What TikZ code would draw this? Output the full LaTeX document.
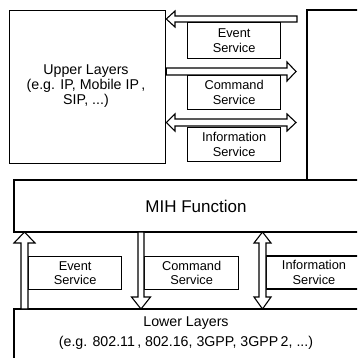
\documentclass[tikz,border=0pt]{standalone}
\usepackage{fontspec}
\setmainfont{Liberation Sans}
\begin{document}
\begin{tikzpicture}[x=1pt,y=-1pt,
  boxline/.style={draw=black,line width=1.3pt},
  svc/.style={boxline,fill=white,anchor=north west,inner sep=0pt,align=center,
    font=\fontsize{12.8}{14.5}\selectfont},
  blockarrow/.style={draw=black,line width=1.1pt,fill=white,line join=miter},
  lbl/.style={inner sep=0pt,align=center}]
\useasboundingbox (0,0) rectangle (357,358);
\clip (0,0) rectangle (357,358);
\fill[white] (0,0) rectangle (357,358);

% upper layers
\node[boxline,anchor=north west,minimum width=156pt,minimum height=153pt,inner sep=0pt] (ul) at (9,10) {};
\node[lbl,font=\fontsize{14.2}{15}\selectfont] (ultext) at (86,86) {Upper Layers\\(e.g. IP, Mobile IP\,,\\SIP, ...)};

% right column box and MIH function box
\draw[boxline] (365,10) -- (307,10) -- (307,180);
\draw[boxline] (365,180) -- (14,180) -- (14,232) -- (365,232);
\node[lbl,font=\fontsize{17}{19}\selectfont] (mih) at (196,206) {MIH Function};

% upper service boxes
\node[svc,minimum width=93pt,minimum height=36pt] (es) at (187,22) {Event\\Service};
\node[svc,minimum width=93pt,minimum height=34pt] (cs) at (187,75) {Command\\Service};
\node[svc,minimum width=93pt,minimum height=34pt] (is) at (187,127) {Information\\Service};

% upper arrows
\draw[blockarrow] (297,16) -- (175,16) -- (175,11) -- (ul.east |- 0,19) -- (175,27) -- (175,22) -- (297,22) -- cycle;
\draw[blockarrow] (ul.east |- 0,68) -- (287,68) -- (287,62) -- (296,71.5) -- (287,81) -- (287,75) -- (ul.east |- 0,75) -- cycle;
\draw[blockarrow] (175,119) -- (287,119) -- (287,114) -- (296,122.5) -- (287,131) -- (287,126) -- (175,126) -- (175,131) -- (ul.east |- 0,122.5) -- (175,114) -- cycle;

% lower layers
\draw[boxline] (365,309) -- (14,309) -- (14,365);
\node[lbl,font=\fontsize{14.2}{20}\selectfont] (ll) at (186,333) {Lower Layers\\(e.g. 802.11\,, 802.16, 3GPP, 3GPP\,2, ...)};

% lower service boxes
\node[svc,minimum width=93pt,minimum height=33pt] (les) at (28,256) {Event\\Service};
\node[svc,minimum width=94pt,minimum height=33pt] (lcs) at (144,256) {Command\\Service};
\draw[boxline] (365,256) -- (266,256) -- (266,289) -- (365,289);
\node[lbl,font=\fontsize{12.8}{14.5}\selectfont] (lis) at (314,272.5) {Information\\Service};

% lower arrows
\draw[blockarrow] (21,309) -- (21,243) -- (14,243) -- (24.5,232) -- (35,243) -- (28,243) -- (28,309) -- cycle;
\draw[blockarrow] (138,232) -- (138,297) -- (131.5,297) -- (141,309) -- (150.5,297) -- (144,297) -- (144,232) -- cycle;
\draw[blockarrow] (259,243) -- (259,297) -- (254,297) -- (262.5,309) -- (271,297) -- (266,297) -- (266,243) -- (271,243) -- (262.5,232) -- (254,243) -- cycle;
\end{tikzpicture}
\end{document}
